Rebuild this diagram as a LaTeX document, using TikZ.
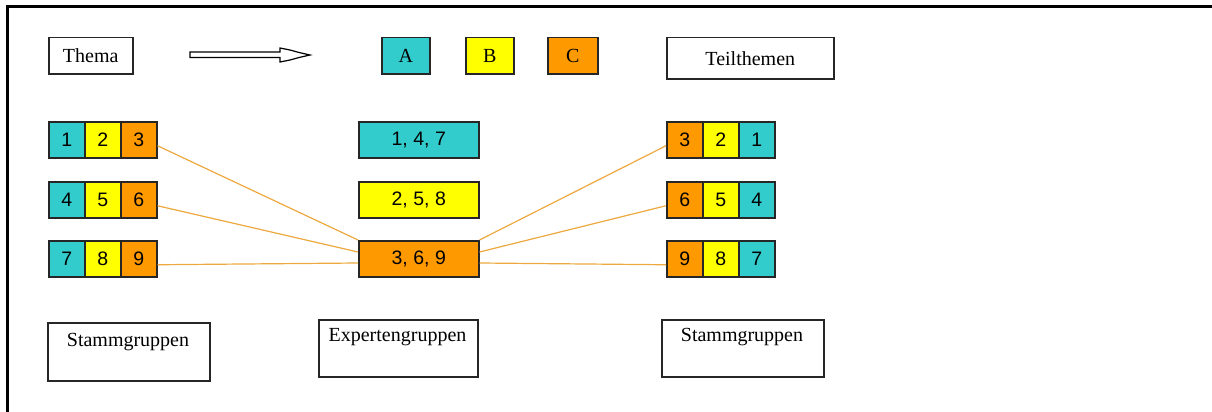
\documentclass[tikz,border=0pt]{standalone}
\usepackage{fontspec}
\setmainfont{Liberation Serif}
\newfontfamily\numfont{Liberation Sans}
\definecolor{cteal}{HTML}{33CCCC}
\definecolor{cyel}{HTML}{FFFF00}
\definecolor{corg}{HTML}{FF9900}
\definecolor{clink}{HTML}{EDA840}
\definecolor{cedge}{HTML}{262626}
\begin{document}
\begin{tikzpicture}[x=1pt,y=-1pt,
  box/.style={draw=cedge,line width=1.5pt,inner sep=0pt,font=\fontsize{20}{21}\selectfont},
  cell/.style={box,minimum width=36pt,minimum height=36pt,anchor=north west,font=\numfont\fontsize{19.5}{20}\selectfont},
  expert/.style={box,minimum width=120pt,minimum height=36pt,anchor=north west,font=\numfont\fontsize{19.5}{20}\selectfont},
  grp/.style={box,minimum width=160pt,minimum height=57pt,anchor=north west},
  grplabel/.style={font=\fontsize{20}{21}\selectfont,anchor=center},
  link/.style={draw=clink,line width=1.2pt}]
\useasboundingbox (0,0) rectangle (1212,412);
\fill[white] (0,0) rectangle (1212,412);
% frame
\draw[line width=3pt] (7,412) -- (7,6.5) -- (1212,6.5);
% top row
\node[box,minimum width=84pt,minimum height=36pt,anchor=north west] (thema) at (48,37) {Thema};
\node[box,fill=cteal,minimum width=48pt,minimum height=36pt,anchor=north west] (A) at (381,37) {A};
\node[box,fill=cyel,minimum width=48pt,minimum height=36pt,anchor=north west] (B) at (465,37) {B};
\node[box,fill=corg,minimum width=50pt,minimum height=36pt,anchor=north west] (C) at (547,37) {C};
\node[box,minimum width=167pt,minimum height=41pt,anchor=north west] (teil) at (666,37) {Teilthemen};
% hollow arrow
\draw[line width=1.2pt,fill=white] (190,52) -- (280,52) -- (280,48) -- (290,50) -- (299,52.5) -- (310,55)
  -- (299,57.5) -- (290,60) -- (280,62) -- (280,57.5) -- (190,57.5) -- cycle;
% left Stammgruppen rows
\node[cell,fill=cteal] (l1) at (48,121) {1};
\node[cell,fill=cyel]  (l2) at (84,121) {2};
\node[cell,fill=corg]  (l3) at (120,121) {3};
\node[cell,fill=cteal] (l4) at (48,181) {4};
\node[cell,fill=cyel]  (l5) at (84,181) {5};
\node[cell,fill=corg]  (l6) at (120,181) {6};
\node[cell,fill=cteal] (l7) at (48,240) {7};
\node[cell,fill=cyel]  (l8) at (84,240) {8};
\node[cell,fill=corg]  (l9) at (120,240) {9};
% Expertengruppen
\node[expert,fill=cteal] (e1) at (358,121) {1, 4, 7};
\node[expert,fill=cyel]  (e2) at (358,181) {2, 5, 8};
\node[expert,fill=corg]  (e3) at (358,240) {3, 6, 9};
% right Stammgruppen rows
\node[cell,fill=corg]  (r3) at (666,121) {3};
\node[cell,fill=cyel]  (r2) at (702,121) {2};
\node[cell,fill=cteal] (r1) at (738,121) {1};
\node[cell,fill=corg]  (r6) at (666,181) {6};
\node[cell,fill=cyel]  (r5) at (702,181) {5};
\node[cell,fill=cteal] (r4) at (738,181) {4};
\node[cell,fill=corg]  (r9) at (666,240) {9};
\node[cell,fill=cyel]  (r8) at (702,240) {8};
\node[cell,fill=cteal] (r7) at (738,240) {7};
% connectors
\draw[link] ([yshift=-6pt]l3.east) -- (e3.north west);
\draw[link] ([yshift=-6pt]l6.east) -- ([yshift=-12pt]e3.north west);
\draw[link] ([yshift=-6pt]l9.east) -- ([yshift=-23pt]e3.north west);
\draw[link] (e3.north east) -- ([yshift=-6pt]r3.west);
\draw[link] ([yshift=-12pt]e3.north east) -- ([yshift=-6pt]r6.west);
\draw[link] ([yshift=-23pt]e3.north east) -- ([yshift=-6pt]r9.west);
% bottom group boxes
\node[grp,minimum width=162pt,minimum height=58pt] (s1) at (47,322) {};
\node[grplabel] (s1t) at (128,342) {Stammgruppen};
\node[grp,minimum width=159pt] (ex) at (318,319) {};
\node[grplabel] (ext) at (397.5,337) {Expertengruppen};
\node[grp,minimum width=162pt] (s2) at (661,319) {};
\node[grplabel] (s2t) at (742,337) {Stammgruppen};
\end{tikzpicture}
\end{document}
